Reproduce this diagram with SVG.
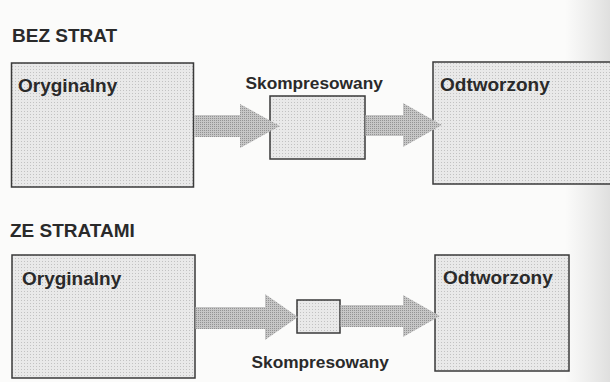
<svg xmlns="http://www.w3.org/2000/svg" width="610" height="382" viewBox="0 0 610 382">
  <defs>
    <linearGradient id="edge" x1="0" y1="0" x2="1" y2="0">
      <stop offset="0" stop-color="#d0d0d0" stop-opacity="0"/>
      <stop offset="1" stop-color="#c8c8c8" stop-opacity="0.55"/>
    </linearGradient>
    <pattern id="dots" width="3" height="3" patternUnits="userSpaceOnUse">
      <rect width="3" height="3" fill="#e9e9e9"/>
      <rect width="1" height="1" fill="#c2c2c2"/>
    </pattern>
    <pattern id="adots" width="2" height="2" patternUnits="userSpaceOnUse">
      <rect width="2" height="2" fill="#c6c6c6"/>
      <rect width="1" height="1" fill="#939393"/>
    </pattern>
  </defs>
  <style>
    .box { fill: url(#dots); stroke: #3a3a3a; stroke-width: 1.5; }
    .arrow { fill: url(#adots); stroke: none; }
    .title { font-family: "Liberation Sans", Arial, sans-serif; font-weight: bold; font-size: 19px; fill: #2a2a2a; }
    .label { font-family: "Liberation Sans", Arial, sans-serif; font-weight: bold; font-size: 19px; fill: #2a2a2a; }
    .small { font-family: "Liberation Sans", Arial, sans-serif; font-weight: bold; font-size: 17.3px; fill: #2a2a2a; }
  </style>
  <rect width="610" height="382" fill="#fbfbfa"/>
  <rect x="565" y="0" width="45" height="382" fill="url(#edge)"/>

  <text class="title" x="12" y="42">BEZ STRAT</text>
  <text class="title" x="10" y="236.5">ZE STRATAMI</text>

  <g id="top-oryginalny">
    <rect class="box" x="11.5" y="63" width="182" height="124"/>
    <text class="label" x="18" y="91.5">Oryginalny</text>
  </g>
  <g id="top-skompresowany">
    <rect class="box" x="270" y="96" width="95" height="63"/>
    <text class="small" x="245.5" y="88.5">Skompresowany</text>
  </g>
  <g id="top-odtworzony">
    <rect class="box" x="433" y="62" width="180" height="122"/>
    <text class="label" x="440" y="91">Odtworzony</text>
  </g>

  <g id="bottom-oryginalny">
    <rect class="box" x="12" y="255" width="183" height="123"/>
    <text class="label" x="22" y="284.5">Oryginalny</text>
  </g>
  <g id="bottom-skompresowany">
    <rect class="box" x="297" y="300" width="43" height="33"/>
    <text class="small" x="251.5" y="368">Skompresowany</text>
  </g>
  <g id="bottom-odtworzony">
    <rect class="box" x="435" y="255" width="134" height="116"/>
    <text class="label" x="443" y="284">Odtworzony</text>
  </g>

  <g id="connectors">
    <polygon class="arrow" points="194.5,115 240,115 240,104 280,126 240,148 240,137 194.5,137"/>
    <polygon class="arrow" points="365.5,115 403,115 403,103 442,125 403,147 403,136 365.5,136"/>
    <polygon class="arrow" points="195.5,307 265,307 265,294 298,317 265,340 265,329 195.5,329"/>
    <polygon class="arrow" points="340.5,305 403,305 403,295 440,316 403,337 403,327 340.5,327"/>
  </g>
</svg>
